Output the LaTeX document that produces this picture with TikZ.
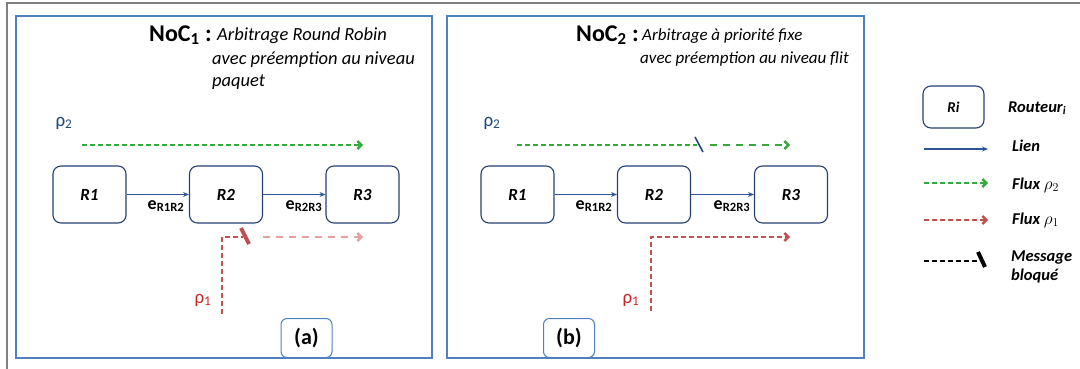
\documentclass[tikz,border=0pt]{standalone}
\usepackage{fontspec}
\setmainfont{Carlito}
\usetikzlibrary{arrows.meta}
\definecolor{panelblue}{RGB}{79,129,189}
\definecolor{routerblue}{RGB}{36,64,115}
\definecolor{linkblue}{RGB}{47,85,151}
\definecolor{flowgreen}{RGB}{51,170,60}
\definecolor{flowred}{RGB}{192,80,77}
\definecolor{lightred}{RGB}{230,160,158}
\definecolor{rhoblue}{RGB}{31,73,125}
\definecolor{rhored}{RGB}{200,40,40}
\definecolor{framegray}{RGB}{128,128,128}
\newcommand{\fs}[1]{\fontsize{#1}{#1}\selectfont}
\begin{document}
\begin{tikzpicture}[x=1pt,y=-1pt,
  panel/.style={draw=panelblue, line width=1.3pt},
  router/.style={draw=routerblue, line width=1.1pt, rounded corners=8pt, minimum width=73pt, minimum height=57pt, inner sep=0pt, font=\bfseries\itshape\fs{17}},
  link/.style={draw=linkblue, line width=1.5pt, -{Stealth[length=6pt,width=5pt]}},
  flowarrow/.style={line width=2.4pt, dash pattern=on 5pt off 3pt, -{Straight Barb[length=4pt,width=8pt]}},
  gflow/.style={flowarrow, draw=flowgreen},
  rflow/.style={flowarrow, draw=flowred},
  sparse/.style={dash pattern=on 7pt off 6pt},
  tag/.style={draw=panelblue, line width=1pt, rounded corners=6pt, fill=white, minimum width=51pt, minimum height=39pt, inner sep=0pt, font=\bfseries\fs{22}},
  elabel/.style={font=\bfseries\fs{18}, inner sep=0pt},
  title/.style={font=\bfseries\fs{24}, inner sep=0pt, anchor=west},
  desc/.style={font=\itshape\fs{18.5}, inner sep=0pt, anchor=west},
  rho/.style={font=\fs{19}, inner sep=0pt},
  legtext/.style={font=\bfseries\itshape\fs{16.5}, inner sep=0pt, anchor=west, align=left},
  block/.style={line width=4pt}
]
\useasboundingbox (0,0) rectangle (1080,369);
% outer frame
\draw[framegray, line width=1.5pt] (7,369) -- (7,3) -- (1080,3);

% ---------------- Panel (a)
\node[panel, minimum width=416pt, minimum height=342pt, inner sep=0pt] (pa) at (224,187) {};
\node[title] (ta) at (149,35) {NoC\textsubscript{1} :};
\node[desc] (da1) at (217,36) {Arbitrage Round Robin};
\node[desc] (da2) at (212,60) {avec préemption au niveau};
\node[desc] (da3) at (212,82) {paquet};

\node[router] (aR1) at (89.5,194.5) {R1};
\node[router] (aR2) at (226,194.5) {R2};
\node[router] (aR3) at (362.5,194.5) {R3};
\draw[link] (aR1.east) -- (aR2.west);
\draw[link] (aR2.east) -- (aR3.west);
\node[elabel] (ae1) at (166,206) {e\textsubscript{R1R2}};
\node[elabel] (ae2) at (304,206) {e\textsubscript{R2R3}};

\node[rho, text=rhoblue] (arho2) at (64,123) {ρ\textsubscript{2}};
\coordinate (ag1) at (82,145);
\coordinate (ag2) at (363,145);
\draw[gflow] (ag1) -- (ag2);

\node[rho, text=rhored] (arho1) at (203,300) {ρ\textsubscript{1}};
\coordinate (ar1) at (222,314);
\coordinate (ar2) at (222,237);
\coordinate (ar3) at (243,237);
\draw[flowred, line width=2.4pt, dash pattern=on 5pt off 3pt] (ar1) -- (ar2) -- (ar3);
\coordinate (abk1) at (241,228);
\coordinate (abk2) at (249,244);
\draw[flowred, block] (abk1) -- (abk2);
\coordinate (al1) at (263,237);
\coordinate (al2) at (363,237);
\draw[flowarrow, draw=lightred, sparse] (al1) -- (al2);

\node[tag, anchor=south] (taga) at (306.5,358) {(a)};

% ---------------- Panel (b)
\node[panel, minimum width=417pt, minimum height=342pt, inner sep=0pt] (pb) at (655.5,187) {};
\node[title] (tb) at (576,35) {NoC\textsubscript{2} :};
\node[desc, font=\itshape\fs{17}] (db1) at (642,36) {Arbitrage à priorité fixe};
\node[desc, font=\itshape\fs{17}] (db2) at (640,59) {avec préemption au niveau flit};

\node[router] (bR1) at (517.5,194.5) {R1};
\node[router] (bR2) at (654,194.5) {R2};
\node[router] (bR3) at (791,194.5) {R3};
\draw[link] (bR1.east) -- (bR2.west);
\draw[link] (bR2.east) -- (bR3.west);
\node[elabel] (be1) at (594,206) {e\textsubscript{R1R2}};
\node[elabel] (be2) at (732,206) {e\textsubscript{R2R3}};

\node[rho, text=rhoblue] (brho2) at (492,123) {ρ\textsubscript{2}};
\coordinate (bg1) at (517,145);
\coordinate (bg2) at (697,145);
\draw[flowgreen, line width=2.4pt, dash pattern=on 5pt off 3pt] (bg1) -- (bg2);
\coordinate (bbk1) at (695,137);
\coordinate (bbk2) at (703,152);
\draw[rhoblue, line width=1.6pt] (bbk1) -- (bbk2);
\coordinate (bg3) at (710,145);
\coordinate (bg4) at (790,145);
\draw[gflow, sparse] (bg3) -- (bg4);

\node[rho, text=rhored] (brho1) at (631,300) {ρ\textsubscript{1}};
\coordinate (br1) at (651,311);
\coordinate (br2) at (651,237);
\coordinate (br3) at (790,237);
\draw[rflow] (br1) -- (br2) -- (br3);

\node[tag, anchor=south] (tagb) at (569,358) {(b)};

% ---------------- Legend
\node[router, minimum width=61pt, minimum height=42pt, font=\bfseries\itshape\fs{15}] (lR) at (953.5,107) {Ri};
\node[legtext] (lRt) at (1008,108) {Routeur\textsubscript{\itshape i}};

\coordinate (ll1) at (924,149);
\coordinate (ll2) at (988,149);
\draw[link, line width=1.3pt] (ll1) -- (ll2);
\node[legtext] (llt) at (1012,146) {Lien};

\coordinate (lg1) at (924,183);
\coordinate (lg2) at (988,183);
\draw[gflow] (lg1) -- (lg2);
\node[legtext] (lgt) at (1012,185) {Flux $\rho_2$};

\coordinate (lr1) at (924,220);
\coordinate (lr2) at (988,220);
\draw[rflow] (lr1) -- (lr2);
\node[legtext] (lrt) at (1012,220) {Flux $\rho_1$};

\coordinate (lb1) at (924,261);
\coordinate (lb2) at (977,261);
\draw[black, line width=2.4pt, dash pattern=on 5pt off 3pt] (lb1) -- (lb2);
\coordinate (lbk1) at (978,252);
\coordinate (lbk2) at (985,267);
\draw[black, block] (lbk1) -- (lbk2);
\node[legtext] (lbt) at (1011,267) {Message\\[2pt]bloqué};
\end{tikzpicture}
\end{document}
